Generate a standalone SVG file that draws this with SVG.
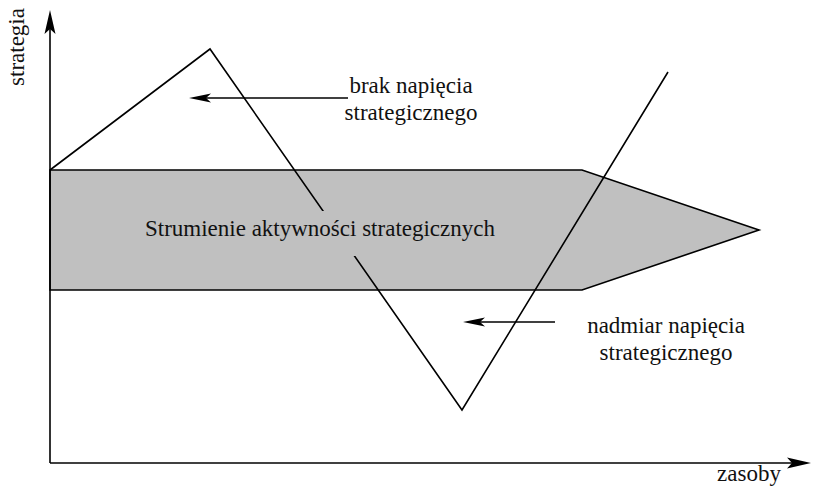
<svg xmlns="http://www.w3.org/2000/svg" width="814" height="487" viewBox="0 0 814 487">
<style>
.ln{fill:none;stroke:#000;stroke-width:1.6}
text{font-family:'Times New Roman',Tinos,'Liberation Serif','DejaVu Serif',serif;font-size:23px;fill:#111}
</style>
<rect width="814" height="487" fill="#fff"/>
<g id="stream">
<polygon points="50,170 582,170 759,230 582,290 50,290" fill="#c0c0c0" stroke="#000" stroke-width="1.6"/>
</g>
<g id="connectors">
<polyline class="ln" points="50,170 210,49 462,410 668,72"/>
<rect x="130" y="211" width="380" height="45" fill="#c0c0c0"/>
<line class="ln" x1="50" y1="463" x2="50" y2="20"/>
<path d="M50,10 L55.5,34 L50,29 L44.5,34 Z" fill="#000"/>
<line class="ln" x1="50" y1="463" x2="800" y2="463"/>
<path d="M811,463 L787,468.5 L792,463 L787,457.5 Z" fill="#000"/>
<line class="ln" x1="348" y1="98" x2="196" y2="98"/>
<path d="M189,98 L211,93.5 L206,98 L211,102.5 Z" fill="#000"/>
<line class="ln" x1="555" y1="322" x2="470" y2="322"/>
<path d="M463,322 L485,317.5 L480,322 L485,326.5 Z" fill="#000"/>
</g>
<g id="labels">
<text x="320" y="236" text-anchor="middle">Strumienie aktywności strategicznych</text>
<text x="411" y="93" text-anchor="middle">brak napięcia</text>
<text x="411" y="120" text-anchor="middle">strategicznego</text>
<text x="666" y="333" text-anchor="middle">nadmiar napięcia</text>
<text x="666" y="360" text-anchor="middle">strategicznego</text>
<text x="749" y="481" text-anchor="middle">zasoby</text>
<text transform="translate(24,47) rotate(-90)" text-anchor="middle">strategia</text>
</g>
</svg>
